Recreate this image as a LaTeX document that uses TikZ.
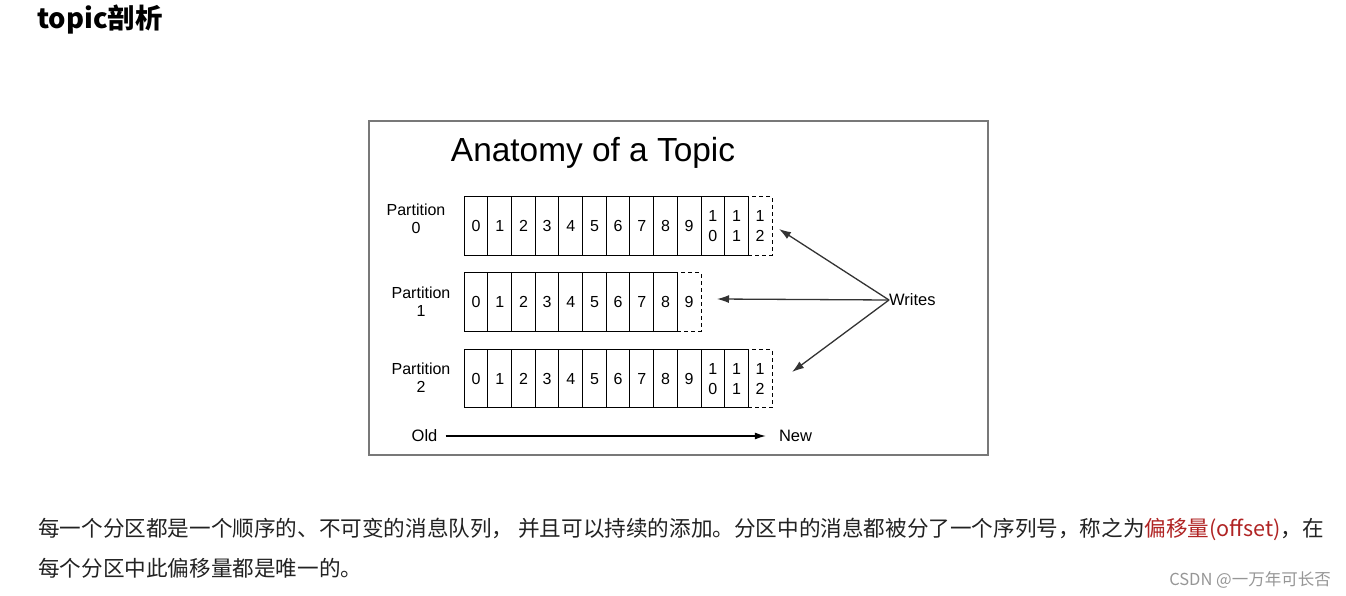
\documentclass[tikz,border=0pt]{standalone}
\usepackage{fontspec}
\setmainfont{Liberation Sans}
\newfontfamily\cjk{Noto Sans CJK SC}
\usetikzlibrary{positioning,calc,arrows.meta}
\definecolor{framegray}{RGB}{120,120,120}
\definecolor{offsetred}{RGB}{176,36,36}
\definecolor{bodyink}{RGB}{34,34,34}
\definecolor{markgray}{RGB}{150,150,150}
\newcommand{\celltext}[1]{\ifnum#1<10 #1\else 1\\\the\numexpr#1-10\relax\fi}
\tikzset{
cell/.style={draw,line width=1pt,minimum width=23.67pt,minimum height=58.5pt,inner sep=0pt,
font=\fontsize{16}{20}\selectfont,align=center},
newcell/.style={cell,dash pattern=on 4pt off 3pt},
partlabel/.style={font=\fontsize{16}{18}\selectfont,align=center,inner sep=0pt},
plain/.style={font=\fontsize{16.5}{18}\selectfont,inner sep=0pt},
heading/.style={font=\cjk\bfseries\fontsize{27.4}{30}\selectfont,inner sep=0pt},
bodyline/.style={font=\cjk\fontsize{21.6}{24}\selectfont,text=bodyink,inner sep=0pt},
watermark/.style={font=\cjk\fontsize{16.5}{20}\selectfont,text=markgray,inner sep=0pt},
frame/.style={draw=framegray,line width=1.6pt},
writearrow/.style={-{Latex[length=12pt,width=8pt]},line width=1.3pt,black!80},
timearrow/.style={-{Latex[length=11pt,width=7pt]},line width=1.1pt}
}
\begin{document}
\begin{tikzpicture}[x=1pt,y=-1pt]
\useasboundingbox (0,0) rectangle (1346,596);
% page text
\node[heading,anchor=west] (head) at (37,20) {topic剖析};
\node[bodyline,anchor=base west] (line1) at (38,536)
  {每一个分区都是一个顺序的、不可变的消息队列， 并且可以持续的添加。分区中的消息都被分了一个序列号，称之为{\color{offsetred}偏移量(offset)}，在};
\node[bodyline,anchor=base west] (line2) at (38,576) {每个分区中此偏移量都是唯一的。};
\node[watermark,anchor=base east] (csdn) at (1331,585) {CSDN @一万年可长否};

% the figure
\draw[frame] (369,121) rectangle (988,455);
\node[font=\fontsize{33.4}{36}\selectfont,inner sep=0pt] (title) at (593,153) {Anatomy of a Topic};

\foreach \r/\last/\y/\ly/\lx in {0/11/226/219/416, 1/8/302/302/421, 2/11/378.7/378/421} {
  \node[partlabel] (lab\r) at (\lx,\ly) {Partition\\\r};
  \foreach \i in {0,...,\last}
    \node[cell] (p\r c\i) at ({464.3+23.67*(\i+0.5)},\y) {\celltext{\i}};
  \pgfmathtruncatemacro{\nxt}{\last+1}
  \node[newcell] (p\r new) at ({464.3+23.67*(\nxt+0.5)},\y) {\celltext{\nxt}};
}

% writes
\node[plain,anchor=west] (writes) at (889,300) {Writes};
\coordinate (w0) at (779,229);
\coordinate (w1) at (717,299);
\coordinate (w2) at (792,372);
\foreach \k in {0,1,2}
  \draw[writearrow] (writes.west) -- (w\k);

% old -> new
\node[plain] (old) at (424.5,436) {Old};
\node[plain] (new) at (795.5,436) {New};
\draw[timearrow,shorten <=8pt,shorten >=13pt] (old.east) -- (new.west);
\end{tikzpicture}
\end{document}
